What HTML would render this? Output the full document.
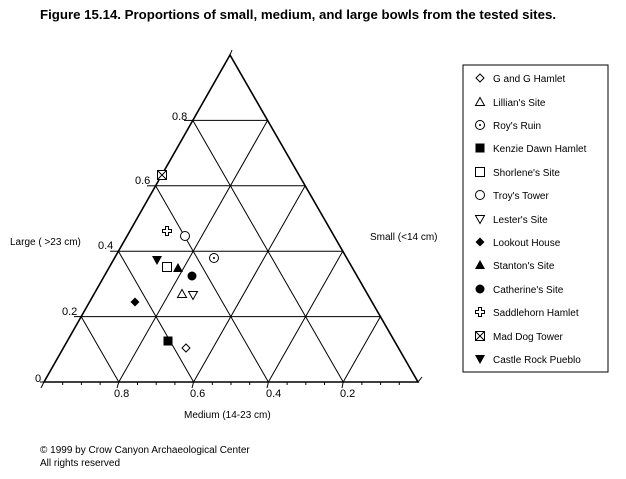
<!DOCTYPE html>
<html><head><meta charset="utf-8"><style>
html,body{margin:0;padding:0;background:#fff;}
svg{display:block;font-family:"Liberation Sans",Arial,sans-serif;}
</style></head><body>
<svg width="626" height="479" viewBox="0 0 626 479" xmlns="http://www.w3.org/2000/svg">
<defs>
<g id="dia"><polygon points="0,-4 4,0 0,4 -4,0" fill="#fff" stroke="#000" stroke-width="1"/></g>
<g id="tri"><polygon points="0,-4.5 4.5,3.5 -4.5,3.5" fill="#fff" stroke="#000" stroke-width="1"/></g>
<g id="dot"><circle r="4.5" fill="#fff" stroke="#000" stroke-width="1"/><circle r="1" fill="#000"/></g>
<g id="fsq"><rect x="-4.5" y="-4.5" width="9" height="9" fill="#000"/></g>
<g id="osq"><rect x="-4.5" y="-4.5" width="9" height="9" fill="#fff" stroke="#000" stroke-width="1"/></g>
<g id="ocir"><circle r="4.5" fill="#fff" stroke="#000" stroke-width="1"/></g>
<g id="itri"><polygon points="-4.5,-3.5 4.5,-3.5 0,4.5" fill="#fff" stroke="#000" stroke-width="1"/></g>
<g id="fdia"><polygon points="0,-4.5 4.5,0 0,4.5 -4.5,0" fill="#000"/></g>
<g id="ftri"><polygon points="0,-5 5,4 -5,4" fill="#000"/></g>
<g id="fcir"><circle r="4.5" fill="#000"/></g>
<g id="cross"><path d="M-1.5,-4.5 H1.5 V-1.5 H4.5 V1.5 H1.5 V4.5 H-1.5 V1.5 H-4.5 V-1.5 H-1.5 Z" fill="#fff" stroke="#000" stroke-width="1"/></g>
<g id="xsq"><rect x="-4.5" y="-4.5" width="9" height="9" fill="#fff" stroke="#000" stroke-width="1"/><path d="M-4.5,-4.5 L4.5,4.5 M4.5,-4.5 L-4.5,4.5" stroke="#000" stroke-width="1"/></g>
<g id="fitri"><polygon points="-5,-4 5,-4 0,5" fill="#000"/></g>
</defs>

<text x="40" y="19" font-size="13" font-weight="bold" textLength="516" lengthAdjust="spacingAndGlyphs">Figure 15.14.  Proportions of small, medium, and large bowls from the tested sites.</text>

<g stroke="#000" stroke-width="1" fill="none">
<line x1="81.2" y1="316.6" x2="380.4" y2="316.6"/>
<line x1="118.4" y1="251.2" x2="342.8" y2="251.2"/>
<line x1="155.6" y1="185.8" x2="305.2" y2="185.8"/>
<line x1="192.8" y1="120.4" x2="267.6" y2="120.4"/>
<line x1="118.8" y1="382" x2="267.6" y2="120.4"/>
<line x1="193.6" y1="382" x2="305.2" y2="185.8"/>
<line x1="268.4" y1="382" x2="342.8" y2="251.2"/>
<line x1="343.2" y1="382" x2="380.4" y2="316.6"/>
<line x1="118.8" y1="382" x2="81.2" y2="316.6"/>
<line x1="193.6" y1="382" x2="118.4" y2="251.2"/>
<line x1="268.4" y1="382" x2="155.6" y2="185.8"/>
<line x1="343.2" y1="382" x2="192.8" y2="120.4"/>
<line x1="40" y1="382" x2="44" y2="382"/>
<line x1="74" y1="316.6" x2="81.2" y2="316.6"/>
<line x1="110" y1="251.2" x2="118.4" y2="251.2"/>
<line x1="147" y1="185.8" x2="155.6" y2="185.8"/>
<line x1="184" y1="120.4" x2="192.8" y2="120.4"/>
</g>
<polygon points="44,382 418,382 230,55" fill="none" stroke="#000" stroke-width="1.6"/>
<g stroke="#000" stroke-width="1">
<line x1="44" y1="382" x2="41" y2="388"/>
<line x1="418" y1="382" x2="422" y2="377"/>
<line x1="230" y1="55" x2="232" y2="50"/>
<line x1="62.7" y1="382" x2="62.7" y2="385"/><line x1="81.4" y1="382" x2="81.4" y2="385"/><line x1="100.1" y1="382" x2="100.1" y2="385"/>
<line x1="137.5" y1="382" x2="137.5" y2="385"/><line x1="156.2" y1="382" x2="156.2" y2="385"/><line x1="174.9" y1="382" x2="174.9" y2="385"/>
<line x1="212.3" y1="382" x2="212.3" y2="385"/><line x1="231" y1="382" x2="231" y2="385"/><line x1="249.7" y1="382" x2="249.7" y2="385"/>
<line x1="287.1" y1="382" x2="287.1" y2="385"/><line x1="305.8" y1="382" x2="305.8" y2="385"/><line x1="324.5" y1="382" x2="324.5" y2="385"/>
<line x1="361.9" y1="382" x2="361.9" y2="385"/><line x1="380.6" y1="382" x2="380.6" y2="385"/><line x1="399.3" y1="382" x2="399.3" y2="385"/>
<line x1="118.8" y1="382" x2="117" y2="388"/><line x1="193.6" y1="382" x2="192" y2="388"/><line x1="268.4" y1="382" x2="267" y2="388"/><line x1="343.2" y1="382" x2="342" y2="388"/>
</g>

<g font-size="11">
<text x="35" y="382">0</text>
<text x="62" y="315">0.2</text>
<text x="98" y="249">0.4</text>
<text x="135" y="184">0.6</text>
<text x="172" y="120">0.8</text>
<text x="114" y="397">0.8</text>
<text x="190" y="397">0.6</text>
<text x="266" y="397">0.4</text>
<text x="340" y="397">0.2</text>
<text x="10" y="245" font-size="10">Large ( &gt;23 cm)</text>
<text x="370" y="240" font-size="10">Small (&lt;14 cm)</text>
<text x="184" y="418" font-size="10">Medium (14-23 cm)</text>
<text x="40" y="453" font-size="10">© 1999 by Crow Canyon Archaeological Center</text>
<text x="40" y="466" font-size="10">All rights reserved</text>
</g>

<use href="#xsq" x="162" y="175"/>
<use href="#cross" x="167" y="231"/>
<use href="#ocir" x="185" y="236"/>
<use href="#dot" x="214" y="258"/>
<use href="#fitri" x="157" y="260"/>
<use href="#osq" x="167" y="267"/>
<use href="#ftri" x="178" y="268"/>
<use href="#fcir" x="192" y="276"/>
<use href="#tri" x="182" y="294"/>
<use href="#itri" x="193" y="295"/>
<use href="#fdia" x="135" y="302"/>
<use href="#fsq" x="168" y="341"/>
<use href="#dia" x="186" y="348"/>

<rect x="463" y="65" width="145" height="307" fill="#fff" stroke="#000" stroke-width="1"/>
<g font-size="10">
<use href="#dia" x="480" y="78"/><text x="493" y="82">G and G Hamlet</text>
<use href="#tri" x="480" y="102"/><text x="493" y="106">Lillian's Site</text>
<use href="#dot" x="480" y="125"/><text x="493" y="129">Roy's Ruin</text>
<use href="#fsq" x="480" y="148"/><text x="493" y="152">Kenzie Dawn Hamlet</text>
<use href="#osq" x="480" y="172"/><text x="493" y="176">Shorlene's Site</text>
<use href="#ocir" x="480" y="195"/><text x="493" y="199">Troy's Tower</text>
<use href="#itri" x="480" y="219"/><text x="493" y="223">Lester's Site</text>
<use href="#fdia" x="480" y="242"/><text x="493" y="246">Lookout House</text>
<use href="#ftri" x="480" y="265"/><text x="493" y="269">Stanton's Site</text>
<use href="#fcir" x="480" y="289"/><text x="493" y="293">Catherine's Site</text>
<use href="#cross" x="480" y="312"/><text x="493" y="316">Saddlehorn Hamlet</text>
<use href="#xsq" x="480" y="336"/><text x="493" y="340">Mad Dog Tower</text>
<use href="#fitri" x="480" y="359"/><text x="493" y="363">Castle Rock Pueblo</text>
</g>
</svg>
</body></html>
